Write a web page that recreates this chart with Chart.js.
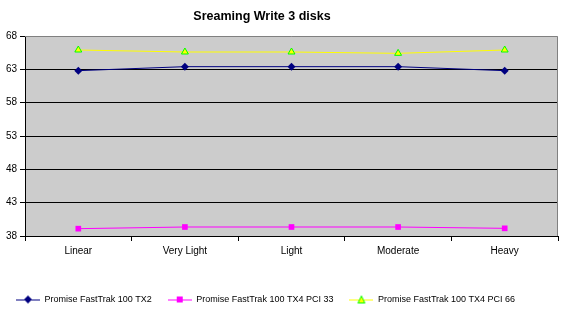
<!DOCTYPE html>
<html>
<head>
<meta charset="utf-8">
<script src="https://cdn.jsdelivr.net/npm/chart.js@4/dist/chart.umd.min.js"></script>
<style>
  html, body { margin: 0; padding: 0; background: #fff; }
  #wrap { width: 566px; height: 320px; }
</style>
</head>
<body>
<div id="wrap"><canvas id="lineChart" width="566" height="320"></canvas></div>
<script>
// chart data
var categories = ['Linear', 'Very Light', 'Light', 'Moderate', 'Heavy'];
var tx2 = [62.8, 63.4, 63.4, 63.4, 62.8];
var tx4pci33 = [39.1, 39.35, 39.35, 39.35, 39.15];
var tx4pci66 = [65.9, 65.6, 65.6, 65.4, 65.9];
var seriesNames = ['Promise FastTrak 100 TX2', 'Promise FastTrak 100 TX4 PCI 33', 'Promise FastTrak 100 TX4 PCI 66'];
var chartTitle = 'Sreaming Write 3 disks';

var FONT = 'Arial, "Liberation Sans", sans-serif';

// little line+marker pictures for the legend
function legendIcon(color, style, fill, border) {
  var c = document.createElement('canvas');
  c.width = 24; c.height = 10;
  var g = c.getContext('2d');
  g.strokeStyle = color; g.lineWidth = 1;
  g.beginPath(); g.moveTo(0, 5.5); g.lineTo(24, 5.5); g.stroke();
  g.fillStyle = fill; g.strokeStyle = border;
  g.beginPath();
  if (style == 'diamond') {
    g.moveTo(12, 1); g.lineTo(16, 5); g.lineTo(12, 9); g.lineTo(8, 5); g.closePath();
    g.fill();
  } else if (style == 'square') {
    g.fillRect(9, 2, 6, 6);
  } else {
    g.moveTo(12, 1.5); g.lineTo(15.5, 8.5); g.lineTo(8.5, 8.5); g.closePath();
    g.fill(); g.stroke();
  }
  return c;
}

var icons = [
  legendIcon('#000080', 'diamond', '#000080', '#000080'),
  legendIcon('#FF00FF', 'square', '#FF00FF', '#FF00FF'),
  legendIcon('#FFFF00', 'triangle', '#FFFF00', '#00FF00')
];

var plotBackground = {
  id: 'plotBackground',
  beforeDraw: function(chart) {
    var a = chart.chartArea, c = chart.ctx;
    c.save();
    c.fillStyle = '#CCCCCC';
    c.fillRect(a.left, a.top, a.right - a.left, a.bottom - a.top);
    c.restore();
  },
  afterDraw: function(chart) {
    var a = chart.chartArea, c = chart.ctx;
    c.save();
    c.strokeStyle = '#808080';
    c.lineWidth = 1;
    c.beginPath();
    c.moveTo(a.left, a.top + 0.5); c.lineTo(a.right - 0.5, a.top + 0.5); c.lineTo(a.right - 0.5, a.bottom);
    c.stroke();
    // title
    c.fillStyle = '#000';
    c.font = 'bold 12.5px ' + FONT;
    c.textAlign = 'center';
    c.textBaseline = 'middle';
    c.fillText(chartTitle, 262, 17);
    c.restore();
  }
};

var ctx = document.getElementById('lineChart').getContext('2d');
var lineChart = new Chart(ctx, {
  type: 'line',
  data: {
    labels: categories,
    datasets: [{
      label: seriesNames[0],
      data: tx2,
      borderColor: '#000080',
      backgroundColor: '#000080',
      borderWidth: 1,
      pointStyle: 'rectRot',
      pointRadius: 4,
      pointBorderWidth: 0
    }, {
      label: seriesNames[1],
      data: tx4pci33,
      borderColor: '#FF00FF',
      backgroundColor: '#FF00FF',
      borderWidth: 1,
      pointStyle: 'rect',
      pointRadius: 4,
      pointBorderWidth: 0
    }, {
      label: seriesNames[2],
      data: tx4pci66,
      borderColor: '#FFFF00',
      backgroundColor: '#FFFF00',
      pointBorderColor: '#00FF00',
      borderWidth: 1,
      pointStyle: 'triangle',
      pointRadius: 4,
      pointBorderWidth: 1
    }]
  },
  options: {
    responsive: false,
    animation: false,
    layout: { padding: { top: 36, right: 8, left: 0, bottom: 6 } },
    plugins: {
      title: { display: false },
      tooltip: { enabled: false },
      legend: {
        position: 'bottom',
        align: 'start',
        labels: {
          usePointStyle: true,
          pointStyleWidth: 24,
          padding: 16,
          color: '#000',
          font: { family: FONT, size: 9 },
          generateLabels: function(chart) {
            return chart.data.datasets.map(function(ds, i) {
              return { text: ds.label, pointStyle: icons[i], datasetIndex: i, lineWidth: 0, fontColor: '#000' };
            });
          }
        }
      }
    },
    scales: {
      x: {
        offset: true,
        grid: { offset: true, drawOnChartArea: false, tickLength: 5, color: '#000' },
        border: { color: '#000', width: 1 },
        ticks: { color: '#000', font: { family: FONT, size: 10 }, padding: 4, maxRotation: 0 },
        afterFit: function(scale) { scale.height = 43; }
      },
      y: {
        min: 38,
        max: 68,
        ticks: { stepSize: 5, color: '#000', font: { family: FONT, size: 10 }, padding: 3 },
        grid: {
          tickLength: 5,
          tickColor: '#000',
          color: function(c) { return c.tick && c.tick.value == 68 ? 'rgba(0,0,0,0)' : '#000'; }
        },
        border: { color: '#000', width: 1 },
        afterFit: function(scale) { scale.width = 25; }
      }
    }
  },
  plugins: [plotBackground]
});
</script>
</body>
</html>
